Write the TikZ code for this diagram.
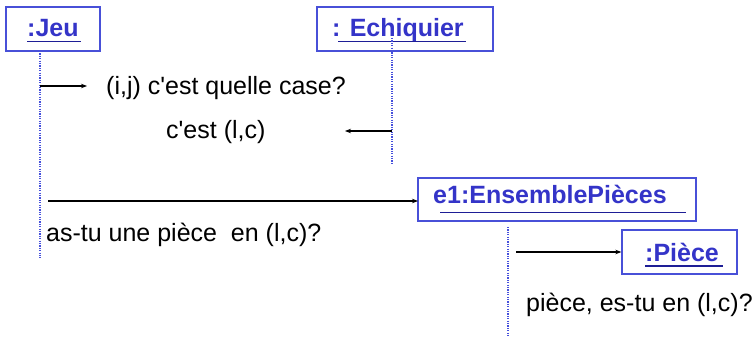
\documentclass[tikz,border=0pt]{standalone}
\usepackage{fontspec}
\setmainfont{Liberation Sans}
\usetikzlibrary{arrows.meta}
\definecolor{boxblue}{RGB}{72,80,216}
\definecolor{txtblue}{RGB}{52,52,200}
\definecolor{ulblue}{RGB}{30,30,150}
\definecolor{lifeblue}{RGB}{70,80,220}
\begin{document}
\begin{tikzpicture}[x=1pt,y=-1pt,
 obj/.style={draw=boxblue, line width=1.3pt, inner sep=0pt},
 lbl/.style={anchor=base west, inner sep=0pt, text=txtblue, font=\fontsize{25}{30}\selectfont\bfseries},
 msg/.style={anchor=base west, inner sep=0pt, font=\fontsize{25}{30}\selectfont},
 uline/.style={draw=ulblue, line width=1.3pt},
 life/.style={draw=lifeblue, line width=2pt, dash pattern=on 1.2pt off 1.2pt},
 call/.style={draw=black, line width=1.1pt, -{Stealth[length=6pt,width=4.5pt]}}]
\useasboundingbox (0,0) rectangle (756,339);
% object boxes
\node[obj, minimum width=94pt, minimum height=44pt] (jeu) at (53,29) {};
\node[obj, minimum width=176pt, minimum height=44pt] (ech) at (405,29) {};
\node[obj, minimum width=278pt, minimum height=43pt] (ens) at (557,199.5) {};
\node[obj, minimum width=115pt, minimum height=44pt] (pie) at (679.5,252) {};
% labels
\node[lbl] (ljeu) at (27,37) {:Jeu};
\node[lbl] (lech) at (332,37) {: Echiquier};
\node[lbl] (lens) at (433,204) {e1:EnsemblePièces};
\node[lbl] (lpie) at (645,262) {:Pièce};
% underlines
\coordinate (u1a) at (27,41.5); \coordinate (u1b) at (81,41.5);
\coordinate (u2a) at (338,41.5); \coordinate (u2b) at (466,41.5);
\coordinate (u3a) at (440,212.5); \coordinate (u3b) at (686,212.5);
\coordinate (u4a) at (645,266); \coordinate (u4b) at (723,266);
\draw[uline] (u1a) -- (u1b);
\draw[uline] (u2a) -- (u2b);
\draw[uline] (u3a) -- (u3b);
\draw[uline] (u4a) -- (u4b);
% lifelines
\coordinate (jeuTop) at (40,51); \coordinate (jeuEnd) at (40,258);
\coordinate (echTop) at (392,38); \coordinate (echEnd) at (392,163);
\coordinate (ensTop) at (508,227); \coordinate (ensEnd) at (508,337);
\draw[life] (jeuTop) -- (jeuEnd);
\draw[life] (echTop) -- (echEnd);
\draw[life] (ensTop) -- (ensEnd);
% messages
\coordinate (a1s) at (40,86); \coordinate (a1e) at (87,86);
\coordinate (a2s) at (392,131); \coordinate (a2e) at (345,131);
\coordinate (a3s) at (48,201); \coordinate (a3e) at (418,201);
\coordinate (a4s) at (516,252);
\draw[call] (a1s) -- (a1e);
\draw[call] (a2s) -- (a2e);
\draw[call] (a3s) -- (a3e);
\draw[call] (a4s) -- (pie.west);
\node[msg] (m1) at (106,95) {(i,j) c\textquotesingle est quelle case?};
\node[msg] (m2) at (166,139) {c\textquotesingle est (l,c)};
\node[msg] (m3) at (46,242) {as-tu une pièce\ \ en (l,c)?};
\node[msg] (m4) at (526,312) {pièce, es-tu en (l,c)?};
\end{tikzpicture}
\end{document}
